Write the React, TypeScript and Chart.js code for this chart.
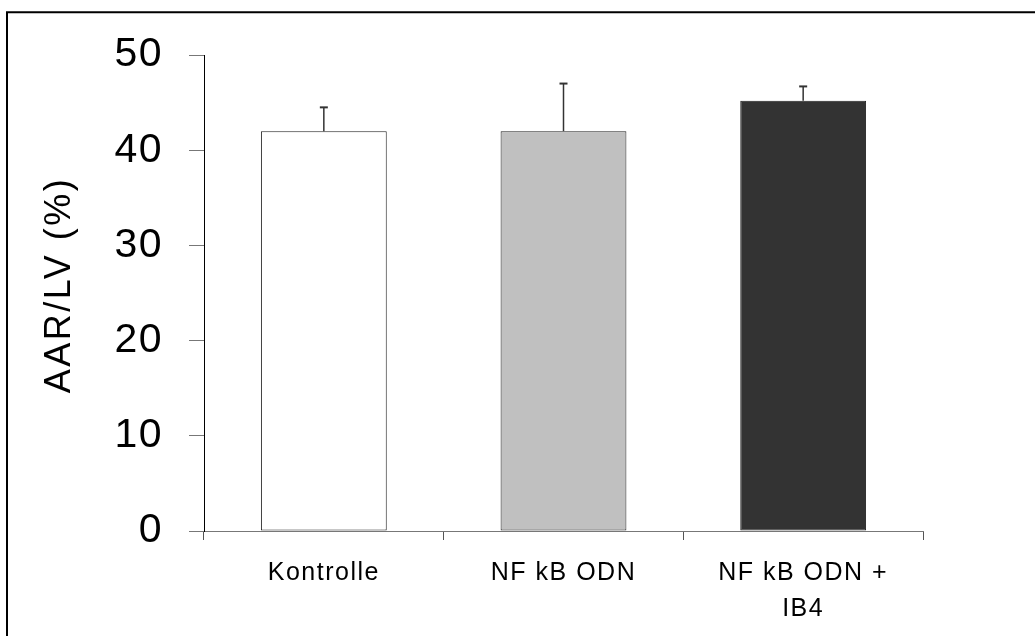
import React, { useEffect, useRef } from "react";
import { Chart, registerables } from "chart.js";

Chart.register(...registerables);

const categories: (string | string[])[] = ["Kontrolle", "NF kB ODN", ["NF kB ODN +", "IB4"]];
const values: number[] = [42.0, 42.0, 45.2];
const errors: number[] = [2.5, 5.0, 1.5];
const barColors: string[] = ["#ffffff", "#c0c0c0", "#333333"];
const yTicks: number[] = [0, 10, 20, 30, 40, 50];
const yTitle = "AAR/LV (%)";

const FONT = "'Liberation Sans', Arial, Helvetica, sans-serif";

const spacingPlugin = {
  id: "spacing",
  beforeUpdate(chart: any) {
    chart.ctx.letterSpacing = "1.5px";
  },
  beforeLayout(chart: any) {
    chart.ctx.letterSpacing = "1.5px";
  },
  beforeDraw(chart: any) {
    chart.ctx.letterSpacing = "1.5px";
  },
};

const framePlugin = {
  id: "frame",
  afterDraw(chart: any) {
    const ctx = chart.ctx;
    ctx.save();
    ctx.strokeStyle = "#000";
    ctx.lineWidth = 2;
    ctx.beginPath();
    ctx.moveTo(7, chart.height);
    ctx.lineTo(7, 12.3);
    ctx.lineTo(chart.width, 12.3);
    ctx.stroke();
    // y axis title
    ctx.translate(60.5, 285);
    ctx.rotate(-Math.PI / 2);
    ctx.letterSpacing = "2.5px";
    ctx.font = `36px ${FONT}`;
    ctx.fillStyle = "#000";
    ctx.textAlign = "center";
    ctx.textBaseline = "middle";
    ctx.fillText(yTitle, 0, 0);
    ctx.restore();
  },
};

const errorBarPlugin = {
  id: "errorBars",
  afterDatasetsDraw(chart: any) {
    const ctx = chart.ctx;
    const meta = chart.getDatasetMeta(0);
    const yScale = chart.scales.y;
    ctx.save();
    ctx.strokeStyle = "#333";
    meta.data.forEach((el: any, i: number) => {
      const top = yScale.getPixelForValue(values[i] + errors[i]);
      ctx.lineWidth = 1.5;
      ctx.beginPath();
      ctx.moveTo(el.x, el.y);
      ctx.lineTo(el.x, top);
      ctx.stroke();
      ctx.lineWidth = 2;
      ctx.beginPath();
      ctx.moveTo(el.x - 4, top);
      ctx.lineTo(el.x + 4, top);
      ctx.stroke();
    });
    ctx.restore();
  },
};

export default function App() {
  const canvasRef = useRef<HTMLCanvasElement | null>(null);

  useEffect(() => {
    if (!canvasRef.current) return;
    const chart = new Chart(canvasRef.current, {
      type: "bar",
      data: {
        labels: categories,
        datasets: [
          {
            data: values,
            backgroundColor: barColors,
            borderColor: "#222",
            borderWidth: 1,
            borderSkipped: false,
            barPercentage: 0.525,
            categoryPercentage: 1,
          },
        ],
      },
      options: {
        animation: false,
        responsive: false,
        devicePixelRatio: 1,
        layout: { padding: { left: 0, top: 55, right: 112, bottom: 0 } },
        plugins: {
          legend: { display: false },
          tooltip: { enabled: false },
        },
        scales: {
          x: {
            offset: true,
            grid: {
              offset: true,
              drawOnChartArea: false,
              drawTicks: true,
              tickLength: 9,
              color: "#555",
            },
            border: { display: true, color: "#777", width: 1 },
            ticks: {
              color: "#000",
              font: { family: FONT, size: 25, lineHeight: 1.44 },
              padding: 15,
              maxRotation: 0,
              minRotation: 0,
              autoSkip: false,
            },
            afterFit(scale: any) {
              scale.height = 105;
            },
          },
          y: {
            min: 0,
            max: 50,
            grid: {
              drawOnChartArea: false,
              drawTicks: true,
              tickLength: 15,
              color: "#777",
            },
            border: { display: true, color: "#000", width: 1 },
            afterBuildTicks(scale: any) {
              scale.ticks = yTicks.map((v) => ({ value: v }));
            },
            ticks: {
              color: "#000",
              font: { family: FONT, size: 41 },
              padding: 26,
            },
            afterFit(scale: any) {
              scale.width = 204;
            },
          },
        },
      },
      plugins: [spacingPlugin, errorBarPlugin, framePlugin],
    });
    return () => chart.destroy();
  }, []);

  return (
    <div style={{ position: "fixed", left: 0, top: 0, width: 1035, height: 636, background: "#fff" }}>
      <canvas ref={canvasRef} width={1035} height={636} style={{ display: "block" }} />
    </div>
  );
}
